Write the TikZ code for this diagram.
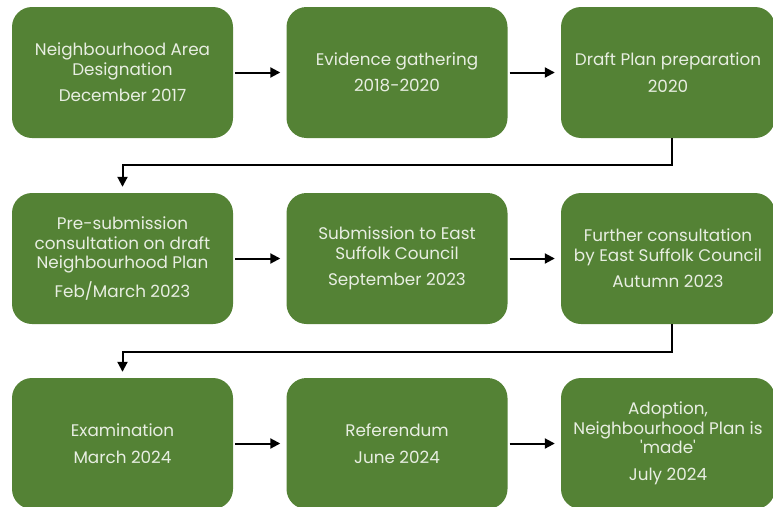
\documentclass[tikz,border=0pt]{standalone}
\usepackage{fontspec}
\setmainfont{Poppins}
\usetikzlibrary{arrows.meta,calc}
\definecolor{boxgreen}{HTML}{548235}
\definecolor{boxtext}{HTML}{E8EEE2}
\tikzset{
  stagebox/.style={fill=boxgreen, draw=none, rounded corners=20pt,
    minimum height=131pt, inner sep=0pt, align=center, text=boxtext,
    font=\fontsize{16.8}{19.5}\selectfont},
  conn/.style={line width=2pt, -{Triangle[length=10pt,width=10pt]}, shorten >=6pt, shorten <=2pt},
  elbow/.style={line width=2pt, -{Triangle[length=10pt,width=10pt]}, shorten >=6pt}
}
\begin{document}
\begin{tikzpicture}[x=1pt,y=-1pt]
\useasboundingbox (0,0) rectangle (773,506);
\clip (0,0) rectangle (773,506);
% row 1
\node[stagebox, minimum width=221pt] (b1) at (122.5,72.5) {Neighbourhood Area\\Designation\\[7pt]December 2017};
\node[stagebox, minimum width=221pt] (b2) at (397,72.5) {Evidence gathering\\[7pt]2018-2020};
\node[stagebox, minimum width=214pt] (b3) at (668,72.5) {Draft Plan preparation\\[7pt]2020};
% row 2
\node[stagebox, minimum width=221pt] (b4) at (122.5,258.5) {Pre-submission\\consultation on draft\\Neighbourhood Plan\\[7pt]Feb/March 2023};
\node[stagebox, minimum width=221pt] (b5) at (397,258.5) {Submission to East\\Suffolk Council\\[7pt]September 2023};
\node[stagebox, minimum width=214pt] (b6) at (668,258.5) {Further consultation\\by East Suffolk Council\\[7pt]Autumn 2023};
% row 3
\node[stagebox, minimum width=221pt] (b7) at (122.5,443.5) {Examination\\[7pt]March 2024};
\node[stagebox, minimum width=221pt] (b8) at (397,443.5) {Referendum\\[7pt]June 2024};
\node[stagebox, minimum width=214pt] (b9) at (668,443.5) {Adoption,\\Neighbourhood Plan is\\\textquotesingle made\textquotesingle\\[7pt]July 2024};
% connectors
\draw[conn] (b1) -- (b2);
\draw[conn] (b2) -- (b3);
\draw[conn] (b4) -- (b5);
\draw[conn] (b5) -- (b6);
\draw[conn] (b7) -- (b8);
\draw[conn] (b8) -- (b9);
\draw[elbow] ([xshift=4pt]b3.south) -- ++(0,27) -| (b4.north);
\draw[elbow] ([xshift=4pt]b6.south) -- ++(0,27.5) -| (b7.north);
\end{tikzpicture}
\end{document}
